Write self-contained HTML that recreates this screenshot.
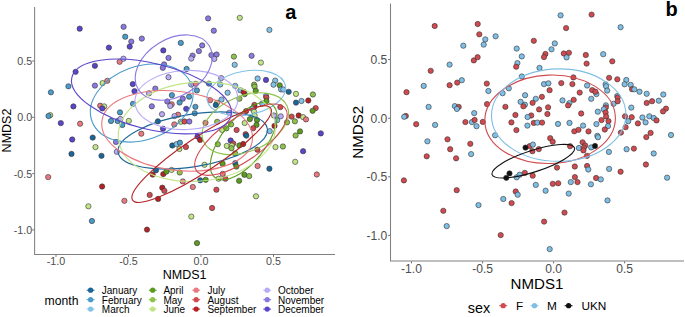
<!DOCTYPE html><html><head><meta charset="utf-8"><style>
html,body{margin:0;padding:0;background:#fff;}
body{width:685px;height:317px;overflow:hidden;position:relative;font-family:"Liberation Sans",sans-serif;}
svg{position:absolute;left:0;top:0;}
text{font-family:"Liberation Sans",sans-serif;}
.tka{font-size:10.7px;fill:#4d4d4d;}
.tkb{font-size:12.1px;fill:#4d4d4d;}
.tta{font-size:12.5px;fill:#000;}
.ttb{font-size:15.1px;fill:#000;}
.lbl{font-size:20px;font-weight:bold;fill:#000;}
.lta{font-size:12.2px;fill:#000;}
.lla{font-size:10px;fill:#000;}
.ltb{font-size:14.4px;fill:#000;}
.llb{font-size:11.8px;fill:#000;}
</style></head><body>
<svg width="685" height="317" viewBox="0 0 685 317">
<g stroke="#333" stroke-width="0.6"><circle cx="79.7" cy="28.7" r="2.65" fill="#5a45cc"/><circle cx="123.6" cy="26.8" r="2.65" fill="#8b79e2"/><circle cx="125.2" cy="36.7" r="2.65" fill="#4a9ccb"/><circle cx="131.3" cy="41.6" r="2.65" fill="#8b79e2"/><circle cx="129.7" cy="46.6" r="2.65" fill="#5a45cc"/><circle cx="108.9" cy="47.6" r="2.65" fill="#5a45cc"/><circle cx="141.8" cy="38.6" r="2.65" fill="#8b79e2"/><circle cx="208.1" cy="18.4" r="2.65" fill="#8b79e2"/><circle cx="213.8" cy="30.7" r="2.65" fill="#8b79e2"/><circle cx="180.8" cy="42.9" r="2.65" fill="#4a9ccb"/><circle cx="202.2" cy="45.4" r="2.65" fill="#8b79e2"/><circle cx="198.9" cy="51.1" r="2.65" fill="#8b79e2"/><circle cx="163.3" cy="50.4" r="2.65" fill="#5a45cc"/><circle cx="239.8" cy="17.8" r="2.65" fill="#c1e586"/><circle cx="269.4" cy="29.9" r="2.65" fill="#83c2e7"/><circle cx="94.9" cy="65.8" r="2.65" fill="#5a45cc"/><circle cx="75.6" cy="71.8" r="2.65" fill="#5a45cc"/><circle cx="68.4" cy="86.3" r="2.65" fill="#4a9ccb"/><circle cx="50.9" cy="92.3" r="2.65" fill="#4a9ccb"/><circle cx="94.9" cy="85.6" r="2.65" fill="#8b79e2"/><circle cx="102.6" cy="83.1" r="2.65" fill="#c1e586"/><circle cx="107.3" cy="80.8" r="2.65" fill="#e8797e"/><circle cx="119.6" cy="61.8" r="2.65" fill="#e8797e"/><circle cx="123.4" cy="58.7" r="2.65" fill="#b8aaf5"/><circle cx="168.5" cy="57.9" r="2.65" fill="#8b79e2"/><circle cx="192.6" cy="55.6" r="2.65" fill="#8b79e2"/><circle cx="191.2" cy="58.6" r="2.65" fill="#b8aaf5"/><circle cx="211.4" cy="55.1" r="2.65" fill="#8b79e2"/><circle cx="216.6" cy="54.5" r="2.65" fill="#8b79e2"/><circle cx="214.3" cy="58.9" r="2.65" fill="#b8aaf5"/><circle cx="164.1" cy="64.4" r="2.65" fill="#8b79e2"/><circle cx="162.8" cy="67.8" r="2.65" fill="#8b79e2"/><circle cx="186.6" cy="69.0" r="2.65" fill="#4a9ccb"/><circle cx="168.5" cy="77.2" r="2.65" fill="#b8aaf5"/><circle cx="221.2" cy="78.1" r="2.65" fill="#b8aaf5"/><circle cx="132.8" cy="84.1" r="2.65" fill="#5a45cc"/><circle cx="134.5" cy="91.2" r="2.65" fill="#5a45cc"/><circle cx="155.3" cy="88.6" r="2.65" fill="#8b79e2"/><circle cx="149.0" cy="93.3" r="2.65" fill="#b8aaf5"/><circle cx="171.9" cy="95.2" r="2.65" fill="#4a9ccb"/><circle cx="167.3" cy="101.5" r="2.65" fill="#8b79e2"/><circle cx="171.7" cy="104.3" r="2.65" fill="#e8797e"/><circle cx="170.2" cy="105.9" r="2.65" fill="#b8aaf5"/><circle cx="182.8" cy="98.7" r="2.65" fill="#8b79e2"/><circle cx="179.6" cy="102.5" r="2.65" fill="#4a9ccb"/><circle cx="189.1" cy="96.7" r="2.65" fill="#4a9ccb"/><circle cx="196.9" cy="90.4" r="2.65" fill="#4a9ccb"/><circle cx="191.2" cy="84.5" r="2.65" fill="#b8aaf5"/><circle cx="195.7" cy="83.8" r="2.65" fill="#e8797e"/><circle cx="133.0" cy="103.8" r="2.65" fill="#4a9ccb"/><circle cx="151.8" cy="106.3" r="2.65" fill="#8b79e2"/><circle cx="186.2" cy="108.8" r="2.65" fill="#5a45cc"/><circle cx="195.4" cy="106.8" r="2.65" fill="#4a9ccb"/><circle cx="208.9" cy="83.6" r="2.65" fill="#4a9ccb"/><circle cx="220.2" cy="84.5" r="2.65" fill="#83c2e7"/><circle cx="235.2" cy="85.9" r="2.65" fill="#83c2e7"/><circle cx="227.6" cy="92.7" r="2.65" fill="#83c2e7"/><circle cx="240.4" cy="90.3" r="2.65" fill="#83c2e7"/><circle cx="244.7" cy="94.1" r="2.65" fill="#5b9b1d"/><circle cx="243.7" cy="91.8" r="2.65" fill="#b52226"/><circle cx="239.4" cy="98.7" r="2.65" fill="#8dc34a"/><circle cx="221.5" cy="99.6" r="2.65" fill="#83c2e7"/><circle cx="210.1" cy="100.2" r="2.65" fill="#e8797e"/><circle cx="217.1" cy="102.8" r="2.65" fill="#c1e586"/><circle cx="215.8" cy="105.0" r="2.65" fill="#1b6699"/><circle cx="257.6" cy="78.5" r="2.65" fill="#83c2e7"/><circle cx="266.0" cy="79.9" r="2.65" fill="#5a45cc"/><circle cx="254.1" cy="84.7" r="2.65" fill="#8dc34a"/><circle cx="254.6" cy="86.6" r="2.65" fill="#8dc34a"/><circle cx="255.7" cy="90.8" r="2.65" fill="#5b9b1d"/><circle cx="275.2" cy="80.6" r="2.65" fill="#83c2e7"/><circle cx="273.5" cy="84.7" r="2.65" fill="#83c2e7"/><circle cx="279.7" cy="85.3" r="2.65" fill="#5b9b1d"/><circle cx="281.1" cy="89.4" r="2.65" fill="#83c2e7"/><circle cx="288.7" cy="91.8" r="2.65" fill="#1b6699"/><circle cx="266.0" cy="96.0" r="2.65" fill="#83c2e7"/><circle cx="266.4" cy="97.4" r="2.65" fill="#d24a50"/><circle cx="233.9" cy="56.6" r="2.65" fill="#8dc34a"/><circle cx="234.7" cy="64.8" r="2.65" fill="#83c2e7"/><circle cx="251.6" cy="55.8" r="2.65" fill="#8b79e2"/><circle cx="260.9" cy="62.6" r="2.65" fill="#c1e586"/><circle cx="296.0" cy="93.9" r="2.65" fill="#c1e586"/><circle cx="312.9" cy="94.5" r="2.65" fill="#8dc34a"/><circle cx="296.0" cy="102.6" r="2.65" fill="#1b6699"/><circle cx="301.5" cy="101.0" r="2.65" fill="#83c2e7"/><circle cx="308.3" cy="100.5" r="2.65" fill="#b52226"/><circle cx="280.3" cy="107.1" r="2.65" fill="#d24a50"/><circle cx="315.7" cy="108.1" r="2.65" fill="#d24a50"/><circle cx="312.6" cy="110.8" r="2.65" fill="#5b9b1d"/><circle cx="273.9" cy="115.5" r="2.65" fill="#b8aaf5"/><circle cx="280.7" cy="116.3" r="2.65" fill="#b8aaf5"/><circle cx="277.1" cy="120.2" r="2.65" fill="#83c2e7"/><circle cx="291.6" cy="116.6" r="2.65" fill="#d24a50"/><circle cx="298.7" cy="115.5" r="2.65" fill="#b52226"/><circle cx="303.1" cy="117.1" r="2.65" fill="#c1e586"/><circle cx="306.0" cy="119.4" r="2.65" fill="#e8797e"/><circle cx="294.9" cy="121.3" r="2.65" fill="#8dc34a"/><circle cx="287.0" cy="122.3" r="2.65" fill="#8dc34a"/><circle cx="300.0" cy="131.4" r="2.65" fill="#5b9b1d"/><circle cx="295.6" cy="135.5" r="2.65" fill="#8dc34a"/><circle cx="320.8" cy="133.4" r="2.65" fill="#5a45cc"/><circle cx="275.5" cy="147.1" r="2.65" fill="#c1e586"/><circle cx="282.9" cy="146.5" r="2.65" fill="#8dc34a"/><circle cx="303.1" cy="151.2" r="2.65" fill="#5a45cc"/><circle cx="295.2" cy="161.8" r="2.65" fill="#c1e586"/><circle cx="254.4" cy="104.9" r="2.65" fill="#d24a50"/><circle cx="254.3" cy="107.0" r="2.65" fill="#b52226"/><circle cx="252.2" cy="108.7" r="2.65" fill="#83c2e7"/><circle cx="246.1" cy="111.1" r="2.65" fill="#b52226"/><circle cx="254.1" cy="111.8" r="2.65" fill="#c1e586"/><circle cx="254.6" cy="115.6" r="2.65" fill="#c1e586"/><circle cx="249.9" cy="119.1" r="2.65" fill="#5b9b1d"/><circle cx="257.0" cy="120.1" r="2.65" fill="#5b9b1d"/><circle cx="262.2" cy="103.5" r="2.65" fill="#83c2e7"/><circle cx="266.4" cy="101.1" r="2.65" fill="#5b9b1d"/><circle cx="244.7" cy="123.0" r="2.65" fill="#c1e586"/><circle cx="256.5" cy="124.9" r="2.65" fill="#5b9b1d"/><circle cx="253.2" cy="128.2" r="2.65" fill="#d24a50"/><circle cx="236.6" cy="130.0" r="2.65" fill="#d24a50"/><circle cx="245.6" cy="134.2" r="2.65" fill="#d24a50"/><circle cx="246.3" cy="135.6" r="2.65" fill="#1b6699"/><circle cx="269.7" cy="131.1" r="2.65" fill="#83c2e7"/><circle cx="274.5" cy="125.9" r="2.65" fill="#b52226"/><circle cx="230.6" cy="140.5" r="2.65" fill="#5a45cc"/><circle cx="233.2" cy="143.5" r="2.65" fill="#d24a50"/><circle cx="226.8" cy="145.9" r="2.65" fill="#c1e586"/><circle cx="231.8" cy="145.6" r="2.65" fill="#c1e586"/><circle cx="231.4" cy="148.2" r="2.65" fill="#8dc34a"/><circle cx="239.4" cy="145.4" r="2.65" fill="#5b9b1d"/><circle cx="243.2" cy="144.0" r="2.65" fill="#b52226"/><circle cx="235.1" cy="153.4" r="2.65" fill="#8dc34a"/><circle cx="257.4" cy="149.7" r="2.65" fill="#d24a50"/><circle cx="194.7" cy="113.3" r="2.65" fill="#4a9ccb"/><circle cx="180.8" cy="121.8" r="2.65" fill="#c1e586"/><circle cx="184.5" cy="121.5" r="2.65" fill="#d24a50"/><circle cx="189.3" cy="121.5" r="2.65" fill="#8b79e2"/><circle cx="205.5" cy="122.8" r="2.65" fill="#e8797e"/><circle cx="217.2" cy="121.8" r="2.65" fill="#8dc34a"/><circle cx="229.2" cy="112.8" r="2.65" fill="#b8aaf5"/><circle cx="222.1" cy="129.9" r="2.65" fill="#c1e586"/><circle cx="226.4" cy="128.4" r="2.65" fill="#8dc34a"/><circle cx="231.1" cy="124.4" r="2.65" fill="#8dc34a"/><circle cx="197.5" cy="136.5" r="2.65" fill="#5a45cc"/><circle cx="200.1" cy="139.9" r="2.65" fill="#b52226"/><circle cx="185.9" cy="147.0" r="2.65" fill="#d24a50"/><circle cx="217.8" cy="144.2" r="2.65" fill="#8dc34a"/><circle cx="162.0" cy="114.2" r="2.65" fill="#b8aaf5"/><circle cx="178.1" cy="114.7" r="2.65" fill="#e8797e"/><circle cx="174.5" cy="116.1" r="2.65" fill="#b8aaf5"/><circle cx="157.9" cy="121.3" r="2.65" fill="#1b6699"/><circle cx="174.3" cy="124.4" r="2.65" fill="#e8797e"/><circle cx="128.8" cy="120.9" r="2.65" fill="#c1e586"/><circle cx="163.0" cy="128.7" r="2.65" fill="#5a45cc"/><circle cx="141.3" cy="133.7" r="2.65" fill="#e8797e"/><circle cx="172.3" cy="145.5" r="2.65" fill="#1b6699"/><circle cx="176.6" cy="144.1" r="2.65" fill="#83c2e7"/><circle cx="179.9" cy="142.7" r="2.65" fill="#4a9ccb"/><circle cx="179.4" cy="149.0" r="2.65" fill="#c1e586"/><circle cx="204.5" cy="164.8" r="2.65" fill="#c1e586"/><circle cx="73.4" cy="106.4" r="2.65" fill="#5a45cc"/><circle cx="50.2" cy="115.2" r="2.65" fill="#c1e586"/><circle cx="48.5" cy="116.0" r="2.65" fill="#4a9ccb"/><circle cx="60.8" cy="123.1" r="2.65" fill="#5a45cc"/><circle cx="80.1" cy="123.7" r="2.65" fill="#e8797e"/><circle cx="72.2" cy="139.5" r="2.65" fill="#5a45cc"/><circle cx="92.7" cy="137.6" r="2.65" fill="#1b6699"/><circle cx="100.2" cy="105.7" r="2.65" fill="#e8797e"/><circle cx="104.2" cy="106.4" r="2.65" fill="#c1e586"/><circle cx="102.3" cy="108.4" r="2.65" fill="#5a45cc"/><circle cx="120.0" cy="112.4" r="2.65" fill="#4a9ccb"/><circle cx="111.0" cy="121.0" r="2.65" fill="#4a9ccb"/><circle cx="117.6" cy="121.0" r="2.65" fill="#4a9ccb"/><circle cx="120.4" cy="119.0" r="2.65" fill="#b8aaf5"/><circle cx="122.3" cy="125.0" r="2.65" fill="#4a9ccb"/><circle cx="95.5" cy="147.1" r="2.65" fill="#c1e586"/><circle cx="71.5" cy="153.9" r="2.65" fill="#1b6699"/><circle cx="101.5" cy="155.8" r="2.65" fill="#1b6699"/><circle cx="48.2" cy="177.1" r="2.65" fill="#e8797e"/><circle cx="102.1" cy="186.5" r="2.65" fill="#b52226"/><circle cx="116.0" cy="141.9" r="2.65" fill="#8b79e2"/><circle cx="116.8" cy="151.8" r="2.65" fill="#b8aaf5"/><circle cx="124.4" cy="200.8" r="2.65" fill="#e8797e"/><circle cx="88.4" cy="206.3" r="2.65" fill="#c1e586"/><circle cx="91.9" cy="221.0" r="2.65" fill="#4a9ccb"/><circle cx="156.0" cy="170.3" r="2.65" fill="#1b6699"/><circle cx="152.7" cy="174.6" r="2.65" fill="#b52226"/><circle cx="163.3" cy="174.1" r="2.65" fill="#b52226"/><circle cx="166.4" cy="171.6" r="2.65" fill="#5b9b1d"/><circle cx="171.6" cy="169.9" r="2.65" fill="#c1e586"/><circle cx="179.7" cy="172.5" r="2.65" fill="#8dc34a"/><circle cx="182.8" cy="181.4" r="2.65" fill="#e8797e"/><circle cx="162.3" cy="187.7" r="2.65" fill="#b52226"/><circle cx="164.4" cy="190.8" r="2.65" fill="#d24a50"/><circle cx="149.7" cy="194.9" r="2.65" fill="#d24a50"/><circle cx="158.1" cy="198.9" r="2.65" fill="#b52226"/><circle cx="192.8" cy="187.0" r="2.65" fill="#e8797e"/><circle cx="200.2" cy="180.3" r="2.65" fill="#1b6699"/><circle cx="205.7" cy="179.8" r="2.65" fill="#5b9b1d"/><circle cx="216.4" cy="189.7" r="2.65" fill="#d24a50"/><circle cx="218.6" cy="178.7" r="2.65" fill="#c1e586"/><circle cx="222.7" cy="173.9" r="2.65" fill="#e8797e"/><circle cx="225.4" cy="178.7" r="2.65" fill="#d24a50"/><circle cx="212.1" cy="208.0" r="2.65" fill="#d24a50"/><circle cx="191.3" cy="216.6" r="2.65" fill="#c1e586"/><circle cx="197.0" cy="243.1" r="2.65" fill="#5b9b1d"/><circle cx="222.6" cy="163.7" r="2.65" fill="#5b9b1d"/><circle cx="235.2" cy="163.2" r="2.65" fill="#1b6699"/><circle cx="236.4" cy="166.6" r="2.65" fill="#5b9b1d"/><circle cx="244.4" cy="174.8" r="2.65" fill="#5b9b1d"/><circle cx="257.6" cy="166.0" r="2.65" fill="#e8797e"/><circle cx="269.4" cy="168.7" r="2.65" fill="#1b6699"/><circle cx="249.2" cy="176.1" r="2.65" fill="#8dc34a"/><circle cx="239.1" cy="180.8" r="2.65" fill="#5b9b1d"/><circle cx="256.0" cy="196.3" r="2.65" fill="#c1e586"/><circle cx="316.8" cy="174.5" r="2.65" fill="#e8797e"/><circle cx="283.3" cy="89.5" r="2.65" fill="#83c2e7"/><circle cx="147.0" cy="229.6" r="2.65" fill="#b52226"/></g>
<g fill="none" stroke-width="1.1"><ellipse cx="192.71" cy="140.49" rx="75.53" ry="26.20" transform="rotate(-9.12 192.71 140.49)" stroke="#1b6699"/><ellipse cx="141.69" cy="103.05" rx="52.94" ry="36.71" transform="rotate(-20.09 141.69 103.05)" stroke="#4a9ccb"/><ellipse cx="246.26" cy="92.94" rx="39.81" ry="21.87" transform="rotate(-10.50 246.26 92.94)" stroke="#83c2e7"/><ellipse cx="243.65" cy="141.15" rx="46.28" ry="21.72" transform="rotate(-51.68 243.65 141.15)" stroke="#5b9b1d"/><ellipse cx="245.33" cy="123.72" rx="45.39" ry="27.57" transform="rotate(-22.72 245.33 123.72)" stroke="#8dc34a"/><ellipse cx="196.79" cy="131.67" rx="78.67" ry="49.48" transform="rotate(-4.85 196.79 131.67)" stroke="#c1e586"/><ellipse cx="177.12" cy="130.86" rx="75.86" ry="39.38" transform="rotate(7.40 177.12 130.86)" stroke="#e8797e"/><ellipse cx="240.93" cy="139.72" rx="54.24" ry="21.31" transform="rotate(-34.79 240.93 139.72)" stroke="#d24a50"/><ellipse cx="201.65" cy="154.16" rx="82.97" ry="17.30" transform="rotate(-33.65 201.65 154.16)" stroke="#b52226"/><ellipse cx="186.41" cy="100.03" rx="51.50" ry="29.56" transform="rotate(-2.36 186.41 100.03)" stroke="#b8aaf5"/><ellipse cx="173.72" cy="67.55" rx="41.66" ry="28.57" transform="rotate(-31.46 173.72 67.55)" stroke="#8b79e2"/><ellipse cx="151.47" cy="96.48" rx="81.88" ry="32.92" transform="rotate(13.58 151.47 96.48)" stroke="#5a45cc"/></g>
<g stroke="#333" stroke-width="0.6"><circle cx="434.7" cy="26.0" r="2.65" fill="#d04a4f"/><circle cx="477.7" cy="24.0" r="2.65" fill="#d04a4f"/><circle cx="479.3" cy="34.3" r="2.65" fill="#d04a4f"/><circle cx="485.3" cy="39.4" r="2.65" fill="#7fbfe6"/><circle cx="483.7" cy="44.6" r="2.65" fill="#7fbfe6"/><circle cx="463.3" cy="45.7" r="2.65" fill="#7fbfe6"/><circle cx="495.6" cy="36.3" r="2.65" fill="#7fbfe6"/><circle cx="560.6" cy="15.3" r="2.65" fill="#7fbfe6"/><circle cx="566.1" cy="28.1" r="2.65" fill="#d04a4f"/><circle cx="533.8" cy="40.8" r="2.65" fill="#d04a4f"/><circle cx="554.8" cy="43.4" r="2.65" fill="#7fbfe6"/><circle cx="551.5" cy="49.3" r="2.65" fill="#7fbfe6"/><circle cx="516.7" cy="48.6" r="2.65" fill="#7fbfe6"/><circle cx="591.6" cy="14.6" r="2.65" fill="#d04a4f"/><circle cx="620.6" cy="27.2" r="2.65" fill="#7fbfe6"/><circle cx="449.6" cy="64.6" r="2.65" fill="#7fbfe6"/><circle cx="430.7" cy="70.8" r="2.65" fill="#d04a4f"/><circle cx="423.7" cy="85.9" r="2.65" fill="#7fbfe6"/><circle cx="406.5" cy="92.2" r="2.65" fill="#d04a4f"/><circle cx="449.6" cy="85.2" r="2.65" fill="#d04a4f"/><circle cx="457.2" cy="82.6" r="2.65" fill="#d04a4f"/><circle cx="461.8" cy="80.2" r="2.65" fill="#7fbfe6"/><circle cx="473.8" cy="60.4" r="2.65" fill="#d04a4f"/><circle cx="477.6" cy="57.2" r="2.65" fill="#d04a4f"/><circle cx="521.8" cy="56.4" r="2.65" fill="#7fbfe6"/><circle cx="545.4" cy="54.0" r="2.65" fill="#d04a4f"/><circle cx="544.0" cy="57.1" r="2.65" fill="#d04a4f"/><circle cx="563.8" cy="53.5" r="2.65" fill="#d04a4f"/><circle cx="568.9" cy="52.8" r="2.65" fill="#d04a4f"/><circle cx="566.6" cy="57.4" r="2.65" fill="#7fbfe6"/><circle cx="517.4" cy="63.1" r="2.65" fill="#7fbfe6"/><circle cx="516.2" cy="66.7" r="2.65" fill="#d04a4f"/><circle cx="539.5" cy="67.9" r="2.65" fill="#7fbfe6"/><circle cx="521.8" cy="76.5" r="2.65" fill="#7fbfe6"/><circle cx="573.4" cy="77.4" r="2.65" fill="#d04a4f"/><circle cx="486.8" cy="83.6" r="2.65" fill="#d04a4f"/><circle cx="488.4" cy="91.0" r="2.65" fill="#7fbfe6"/><circle cx="508.8" cy="88.3" r="2.65" fill="#7fbfe6"/><circle cx="502.6" cy="93.2" r="2.65" fill="#7fbfe6"/><circle cx="525.1" cy="95.2" r="2.65" fill="#7fbfe6"/><circle cx="520.6" cy="101.8" r="2.65" fill="#7fbfe6"/><circle cx="524.9" cy="104.7" r="2.65" fill="#7fbfe6"/><circle cx="523.4" cy="106.3" r="2.65" fill="#d04a4f"/><circle cx="535.8" cy="98.8" r="2.65" fill="#7fbfe6"/><circle cx="532.6" cy="102.8" r="2.65" fill="#d04a4f"/><circle cx="541.9" cy="96.8" r="2.65" fill="#d04a4f"/><circle cx="549.6" cy="90.2" r="2.65" fill="#d04a4f"/><circle cx="544.0" cy="84.1" r="2.65" fill="#7fbfe6"/><circle cx="548.4" cy="83.3" r="2.65" fill="#7fbfe6"/><circle cx="487.0" cy="104.1" r="2.65" fill="#d04a4f"/><circle cx="505.4" cy="106.8" r="2.65" fill="#d04a4f"/><circle cx="539.1" cy="109.4" r="2.65" fill="#d04a4f"/><circle cx="548.1" cy="107.3" r="2.65" fill="#d04a4f"/><circle cx="561.3" cy="83.1" r="2.65" fill="#d04a4f"/><circle cx="572.4" cy="84.1" r="2.65" fill="#d04a4f"/><circle cx="587.1" cy="85.5" r="2.65" fill="#7fbfe6"/><circle cx="579.7" cy="92.6" r="2.65" fill="#d04a4f"/><circle cx="592.2" cy="90.1" r="2.65" fill="#d04a4f"/><circle cx="596.4" cy="94.1" r="2.65" fill="#7fbfe6"/><circle cx="595.4" cy="91.7" r="2.65" fill="#d04a4f"/><circle cx="591.2" cy="98.8" r="2.65" fill="#7fbfe6"/><circle cx="573.7" cy="99.8" r="2.65" fill="#d04a4f"/><circle cx="562.5" cy="100.4" r="2.65" fill="#7fbfe6"/><circle cx="569.4" cy="103.1" r="2.65" fill="#7fbfe6"/><circle cx="568.1" cy="105.4" r="2.65" fill="#d04a4f"/><circle cx="609.1" cy="77.8" r="2.65" fill="#d04a4f"/><circle cx="617.3" cy="79.3" r="2.65" fill="#d04a4f"/><circle cx="605.6" cy="84.3" r="2.65" fill="#7fbfe6"/><circle cx="606.1" cy="86.2" r="2.65" fill="#7fbfe6"/><circle cx="607.2" cy="90.6" r="2.65" fill="#7fbfe6"/><circle cx="626.3" cy="80.0" r="2.65" fill="#7fbfe6"/><circle cx="624.6" cy="84.3" r="2.65" fill="#7fbfe6"/><circle cx="630.7" cy="84.9" r="2.65" fill="#7fbfe6"/><circle cx="632.1" cy="89.2" r="2.65" fill="#d04a4f"/><circle cx="639.5" cy="91.7" r="2.65" fill="#7fbfe6"/><circle cx="617.3" cy="96.0" r="2.65" fill="#7fbfe6"/><circle cx="617.7" cy="97.5" r="2.65" fill="#d04a4f"/><circle cx="585.8" cy="55.0" r="2.65" fill="#d04a4f"/><circle cx="586.6" cy="63.6" r="2.65" fill="#d04a4f"/><circle cx="603.2" cy="54.2" r="2.65" fill="#7fbfe6"/><circle cx="612.3" cy="61.3" r="2.65" fill="#d04a4f"/><circle cx="646.7" cy="93.8" r="2.65" fill="#7fbfe6"/><circle cx="663.3" cy="94.5" r="2.65" fill="#7fbfe6"/><circle cx="646.7" cy="102.9" r="2.65" fill="#d04a4f"/><circle cx="652.1" cy="101.2" r="2.65" fill="#d04a4f"/><circle cx="658.8" cy="100.7" r="2.65" fill="#7fbfe6"/><circle cx="631.3" cy="107.6" r="2.65" fill="#7fbfe6"/><circle cx="666.0" cy="108.6" r="2.65" fill="#d04a4f"/><circle cx="663.0" cy="111.4" r="2.65" fill="#d04a4f"/><circle cx="625.0" cy="116.3" r="2.65" fill="#d04a4f"/><circle cx="631.7" cy="117.2" r="2.65" fill="#d04a4f"/><circle cx="628.2" cy="121.2" r="2.65" fill="#7fbfe6"/><circle cx="642.4" cy="117.5" r="2.65" fill="#7fbfe6"/><circle cx="649.3" cy="116.3" r="2.65" fill="#7fbfe6"/><circle cx="653.7" cy="118.0" r="2.65" fill="#7fbfe6"/><circle cx="656.5" cy="120.4" r="2.65" fill="#d04a4f"/><circle cx="645.6" cy="122.4" r="2.65" fill="#7fbfe6"/><circle cx="637.9" cy="123.4" r="2.65" fill="#d04a4f"/><circle cx="650.6" cy="132.9" r="2.65" fill="#d04a4f"/><circle cx="646.3" cy="137.1" r="2.65" fill="#d04a4f"/><circle cx="671.0" cy="135.0" r="2.65" fill="#7fbfe6"/><circle cx="626.6" cy="149.2" r="2.65" fill="#7fbfe6"/><circle cx="633.9" cy="148.6" r="2.65" fill="#d04a4f"/><circle cx="653.7" cy="153.5" r="2.65" fill="#7fbfe6"/><circle cx="645.9" cy="164.5" r="2.65" fill="#d04a4f"/><circle cx="605.9" cy="105.3" r="2.65" fill="#7fbfe6"/><circle cx="605.8" cy="107.5" r="2.65" fill="#d04a4f"/><circle cx="603.8" cy="109.2" r="2.65" fill="#7fbfe6"/><circle cx="597.8" cy="111.7" r="2.65" fill="#7fbfe6"/><circle cx="605.6" cy="112.5" r="2.65" fill="#d04a4f"/><circle cx="606.1" cy="116.4" r="2.65" fill="#d04a4f"/><circle cx="601.5" cy="120.1" r="2.65" fill="#d04a4f"/><circle cx="608.5" cy="121.1" r="2.65" fill="#d04a4f"/><circle cx="613.6" cy="103.8" r="2.65" fill="#7fbfe6"/><circle cx="617.7" cy="101.3" r="2.65" fill="#d04a4f"/><circle cx="596.4" cy="124.1" r="2.65" fill="#7fbfe6"/><circle cx="608.0" cy="126.1" r="2.65" fill="#7fbfe6"/><circle cx="604.8" cy="129.5" r="2.65" fill="#d04a4f"/><circle cx="588.5" cy="131.4" r="2.65" fill="#d04a4f"/><circle cx="597.3" cy="135.8" r="2.65" fill="#7fbfe6"/><circle cx="598.0" cy="137.2" r="2.65" fill="#7fbfe6"/><circle cx="620.9" cy="132.6" r="2.65" fill="#d04a4f"/><circle cx="625.6" cy="127.2" r="2.65" fill="#d04a4f"/><circle cx="582.6" cy="142.3" r="2.65" fill="#d04a4f"/><circle cx="585.2" cy="145.5" r="2.65" fill="#d04a4f"/><circle cx="578.9" cy="148.0" r="2.65" fill="#7fbfe6"/><circle cx="583.8" cy="147.7" r="2.65" fill="#d04a4f"/><circle cx="583.4" cy="150.4" r="2.65" fill="#d04a4f"/><circle cx="591.2" cy="147.4" r="2.65" fill="#7fbfe6"/><circle cx="587.0" cy="155.8" r="2.65" fill="#d04a4f"/><circle cx="608.9" cy="151.9" r="2.65" fill="#7fbfe6"/><circle cx="547.4" cy="114.0" r="2.65" fill="#d04a4f"/><circle cx="533.8" cy="122.9" r="2.65" fill="#d04a4f"/><circle cx="537.4" cy="122.6" r="2.65" fill="#7fbfe6"/><circle cx="542.1" cy="122.6" r="2.65" fill="#d04a4f"/><circle cx="558.0" cy="123.9" r="2.65" fill="#7fbfe6"/><circle cx="569.5" cy="122.9" r="2.65" fill="#7fbfe6"/><circle cx="581.2" cy="113.5" r="2.65" fill="#d04a4f"/><circle cx="574.3" cy="131.3" r="2.65" fill="#d04a4f"/><circle cx="578.5" cy="129.8" r="2.65" fill="#d04a4f"/><circle cx="583.1" cy="125.6" r="2.65" fill="#7fbfe6"/><circle cx="550.2" cy="138.2" r="2.65" fill="#d04a4f"/><circle cx="552.7" cy="141.7" r="2.65" fill="#d04a4f"/><circle cx="538.8" cy="149.1" r="2.65" fill="#d04a4f"/><circle cx="570.1" cy="146.2" r="2.65" fill="#d04a4f"/><circle cx="515.4" cy="115.0" r="2.65" fill="#d04a4f"/><circle cx="531.2" cy="115.5" r="2.65" fill="#d04a4f"/><circle cx="527.6" cy="117.0" r="2.65" fill="#7fbfe6"/><circle cx="511.4" cy="122.4" r="2.65" fill="#d04a4f"/><circle cx="527.4" cy="125.6" r="2.65" fill="#7fbfe6"/><circle cx="482.8" cy="121.9" r="2.65" fill="#d04a4f"/><circle cx="516.4" cy="130.1" r="2.65" fill="#d04a4f"/><circle cx="495.1" cy="135.3" r="2.65" fill="#7fbfe6"/><circle cx="529.7" cy="146.1" r="2.65" fill="#d04a4f"/><circle cx="532.9" cy="144.6" r="2.65" fill="#7fbfe6"/><circle cx="532.4" cy="151.2" r="2.65" fill="#d04a4f"/><circle cx="557.0" cy="167.6" r="2.65" fill="#d04a4f"/><circle cx="428.6" cy="106.9" r="2.65" fill="#7fbfe6"/><circle cx="405.8" cy="116.0" r="2.65" fill="#d04a4f"/><circle cx="404.2" cy="116.8" r="2.65" fill="#7fbfe6"/><circle cx="416.2" cy="124.2" r="2.65" fill="#d04a4f"/><circle cx="435.1" cy="124.9" r="2.65" fill="#7fbfe6"/><circle cx="427.4" cy="141.3" r="2.65" fill="#7fbfe6"/><circle cx="447.5" cy="139.3" r="2.65" fill="#d04a4f"/><circle cx="454.8" cy="106.1" r="2.65" fill="#7fbfe6"/><circle cx="458.7" cy="106.9" r="2.65" fill="#d04a4f"/><circle cx="456.9" cy="108.9" r="2.65" fill="#7fbfe6"/><circle cx="474.2" cy="113.1" r="2.65" fill="#7fbfe6"/><circle cx="465.4" cy="122.1" r="2.65" fill="#d04a4f"/><circle cx="471.9" cy="122.1" r="2.65" fill="#7fbfe6"/><circle cx="474.6" cy="120.0" r="2.65" fill="#d04a4f"/><circle cx="476.5" cy="126.2" r="2.65" fill="#7fbfe6"/><circle cx="450.2" cy="149.2" r="2.65" fill="#d04a4f"/><circle cx="426.7" cy="156.3" r="2.65" fill="#d04a4f"/><circle cx="456.1" cy="158.3" r="2.65" fill="#d04a4f"/><circle cx="403.9" cy="180.4" r="2.65" fill="#d04a4f"/><circle cx="456.7" cy="190.2" r="2.65" fill="#d04a4f"/><circle cx="470.3" cy="143.8" r="2.65" fill="#d04a4f"/><circle cx="471.1" cy="154.1" r="2.65" fill="#7fbfe6"/><circle cx="478.5" cy="205.1" r="2.65" fill="#7fbfe6"/><circle cx="443.3" cy="210.8" r="2.65" fill="#d04a4f"/><circle cx="446.7" cy="226.1" r="2.65" fill="#7fbfe6"/><circle cx="516.7" cy="177.3" r="2.65" fill="#7fbfe6"/><circle cx="519.7" cy="174.7" r="2.65" fill="#7fbfe6"/><circle cx="524.8" cy="172.9" r="2.65" fill="#d04a4f"/><circle cx="532.7" cy="175.7" r="2.65" fill="#d04a4f"/><circle cx="535.8" cy="184.9" r="2.65" fill="#7fbfe6"/><circle cx="515.7" cy="191.5" r="2.65" fill="#d04a4f"/><circle cx="517.7" cy="194.7" r="2.65" fill="#7fbfe6"/><circle cx="503.3" cy="199.0" r="2.65" fill="#7fbfe6"/><circle cx="511.6" cy="203.1" r="2.65" fill="#d04a4f"/><circle cx="545.6" cy="190.7" r="2.65" fill="#7fbfe6"/><circle cx="552.8" cy="183.8" r="2.65" fill="#d04a4f"/><circle cx="558.2" cy="183.3" r="2.65" fill="#d04a4f"/><circle cx="568.7" cy="193.6" r="2.65" fill="#7fbfe6"/><circle cx="570.8" cy="182.1" r="2.65" fill="#7fbfe6"/><circle cx="574.9" cy="177.1" r="2.65" fill="#d04a4f"/><circle cx="577.5" cy="182.1" r="2.65" fill="#d04a4f"/><circle cx="564.5" cy="212.6" r="2.65" fill="#d04a4f"/><circle cx="544.1" cy="221.6" r="2.65" fill="#d04a4f"/><circle cx="549.7" cy="249.1" r="2.65" fill="#7fbfe6"/><circle cx="574.8" cy="166.5" r="2.65" fill="#d04a4f"/><circle cx="587.1" cy="166.0" r="2.65" fill="#d04a4f"/><circle cx="588.3" cy="169.5" r="2.65" fill="#7fbfe6"/><circle cx="596.1" cy="178.0" r="2.65" fill="#d04a4f"/><circle cx="609.1" cy="168.9" r="2.65" fill="#7fbfe6"/><circle cx="620.6" cy="171.7" r="2.65" fill="#d04a4f"/><circle cx="600.8" cy="179.4" r="2.65" fill="#7fbfe6"/><circle cx="590.9" cy="184.3" r="2.65" fill="#7fbfe6"/><circle cx="607.5" cy="200.4" r="2.65" fill="#7fbfe6"/><circle cx="667.1" cy="177.7" r="2.65" fill="#7fbfe6"/><circle cx="634.3" cy="89.3" r="2.65" fill="#7fbfe6"/><circle cx="500.7" cy="235.1" r="2.65" fill="#d04a4f"/><circle cx="595.0" cy="146.0" r="2.65" fill="#111111"/><circle cx="525.5" cy="147.6" r="2.65" fill="#111111"/><circle cx="509.5" cy="173.4" r="2.65" fill="#111111"/><circle cx="506.3" cy="177.8" r="2.65" fill="#111111"/></g>
<g fill="none" stroke-width="1.1"><ellipse cx="550.10" cy="119.30" rx="65.30" ry="44.20" transform="rotate(-2.10 550.10 119.30)" stroke="#d04a4f"/><ellipse cx="558.70" cy="115.10" rx="67.20" ry="46.20" transform="rotate(-0.70 558.70 115.10)" stroke="#7fbfe6"/><ellipse cx="533.30" cy="161.20" rx="43.30" ry="10.70" transform="rotate(-18.00 533.30 161.20)" stroke="#111111"/></g>
<line x1="34.6" y1="7" x2="34.6" y2="254.5" stroke="#808080" stroke-width="1.05"/><line x1="34.1" y1="254.5" x2="335" y2="254.5" stroke="#808080" stroke-width="1.05"/><line x1="32.2" y1="61.0" x2="34.1" y2="61.0" stroke="#333333" stroke-width="0.7"/><text x="32.2" y="64.9" text-anchor="end" class="tka">0.5</text><line x1="32.2" y1="117.3" x2="34.1" y2="117.3" stroke="#333333" stroke-width="0.7"/><text x="32.2" y="121.2" text-anchor="end" class="tka">0.0</text><line x1="32.2" y1="173.6" x2="34.1" y2="173.6" stroke="#333333" stroke-width="0.7"/><text x="32.2" y="177.5" text-anchor="end" class="tka">-0.5</text><line x1="32.2" y1="229.9" x2="34.1" y2="229.9" stroke="#333333" stroke-width="0.7"/><text x="32.2" y="233.8" text-anchor="end" class="tka">-1.0</text><line x1="56.0" y1="255" x2="56.0" y2="256.9" stroke="#333333" stroke-width="0.7"/><text x="56.0" y="265.0" text-anchor="middle" class="tka">-1.0</text><line x1="128.5" y1="255" x2="128.5" y2="256.9" stroke="#333333" stroke-width="0.7"/><text x="128.5" y="265.0" text-anchor="middle" class="tka">-0.5</text><line x1="201.0" y1="255" x2="201.0" y2="256.9" stroke="#333333" stroke-width="0.7"/><text x="201.0" y="265.0" text-anchor="middle" class="tka">0.0</text><line x1="273.5" y1="255" x2="273.5" y2="256.9" stroke="#333333" stroke-width="0.7"/><text x="273.5" y="265.0" text-anchor="middle" class="tka">0.5</text><text x="184.6" y="278.5" text-anchor="middle" class="tta">NMDS1</text><text transform="translate(10.9 130.5) rotate(-90)" text-anchor="middle" class="tta">NMDS2</text><text x="285.2" y="19.0" class="lbl">a</text>
<text x="44.6" y="305.1" class="lta">month</text><line x1="86.7" y1="290.2" x2="94.5" y2="290.2" stroke="#1b6699" stroke-width="1.1"/><circle cx="90.6" cy="290.2" r="2.6" fill="#1b6699"/><text x="101.8" y="294.3" class="lla">January</text><line x1="86.7" y1="299.7" x2="94.5" y2="299.7" stroke="#4a9ccb" stroke-width="1.1"/><circle cx="90.6" cy="299.7" r="2.6" fill="#4a9ccb"/><text x="101.8" y="303.8" class="lla">February</text><line x1="86.7" y1="309.1" x2="94.5" y2="309.1" stroke="#83c2e7" stroke-width="1.1"/><circle cx="90.6" cy="309.1" r="2.6" fill="#83c2e7"/><text x="101.8" y="313.2" class="lla">March</text><line x1="148.8" y1="290.2" x2="156.6" y2="290.2" stroke="#5b9b1d" stroke-width="1.1"/><circle cx="152.7" cy="290.2" r="2.6" fill="#5b9b1d"/><text x="163.4" y="294.3" class="lla">April</text><line x1="148.8" y1="299.7" x2="156.6" y2="299.7" stroke="#8dc34a" stroke-width="1.1"/><circle cx="152.7" cy="299.7" r="2.6" fill="#8dc34a"/><text x="163.4" y="303.8" class="lla">May</text><line x1="148.8" y1="309.1" x2="156.6" y2="309.1" stroke="#c1e586" stroke-width="1.1"/><circle cx="152.7" cy="309.1" r="2.6" fill="#c1e586"/><text x="163.4" y="313.2" class="lla">June</text><line x1="192.3" y1="290.2" x2="200.1" y2="290.2" stroke="#e8797e" stroke-width="1.1"/><circle cx="196.2" cy="290.2" r="2.6" fill="#e8797e"/><text x="207.4" y="294.3" class="lla">July</text><line x1="192.3" y1="299.7" x2="200.1" y2="299.7" stroke="#d24a50" stroke-width="1.1"/><circle cx="196.2" cy="299.7" r="2.6" fill="#d24a50"/><text x="207.4" y="303.8" class="lla">August</text><line x1="192.3" y1="309.1" x2="200.1" y2="309.1" stroke="#b52226" stroke-width="1.1"/><circle cx="196.2" cy="309.1" r="2.6" fill="#b52226"/><text x="207.4" y="313.2" class="lla">September</text><line x1="263.3" y1="290.2" x2="271.1" y2="290.2" stroke="#b8aaf5" stroke-width="1.1"/><circle cx="267.2" cy="290.2" r="2.6" fill="#b8aaf5"/><text x="278.0" y="294.3" class="lla">October</text><line x1="263.3" y1="299.7" x2="271.1" y2="299.7" stroke="#8b79e2" stroke-width="1.1"/><circle cx="267.2" cy="299.7" r="2.6" fill="#8b79e2"/><text x="278.0" y="303.8" class="lla">November</text><line x1="263.3" y1="309.1" x2="271.1" y2="309.1" stroke="#5a45cc" stroke-width="1.1"/><circle cx="267.2" cy="309.1" r="2.6" fill="#5a45cc"/><text x="278.0" y="313.2" class="lla">December</text>
<line x1="390.5" y1="3.5" x2="390.5" y2="261" stroke="#808080" stroke-width="1.05"/><line x1="390" y1="261" x2="684" y2="261" stroke="#808080" stroke-width="1.05"/><line x1="388.1" y1="59.6" x2="390" y2="59.6" stroke="#333333" stroke-width="0.7"/><text x="387.3" y="64.0" text-anchor="end" class="tkb">0.5</text><line x1="388.1" y1="118.2" x2="390" y2="118.2" stroke="#333333" stroke-width="0.7"/><text x="387.3" y="122.6" text-anchor="end" class="tkb">0.0</text><line x1="388.1" y1="176.8" x2="390" y2="176.8" stroke="#333333" stroke-width="0.7"/><text x="387.3" y="181.2" text-anchor="end" class="tkb">-0.5</text><line x1="388.1" y1="235.4" x2="390" y2="235.4" stroke="#333333" stroke-width="0.7"/><text x="387.3" y="239.8" text-anchor="end" class="tkb">-1.0</text><line x1="411.5" y1="261.5" x2="411.5" y2="263.4" stroke="#333333" stroke-width="0.7"/><text x="411.5" y="273.0" text-anchor="middle" class="tkb">-1.0</text><line x1="482.6" y1="261.5" x2="482.6" y2="263.4" stroke="#333333" stroke-width="0.7"/><text x="482.6" y="273.0" text-anchor="middle" class="tkb">-0.5</text><line x1="553.6" y1="261.5" x2="553.6" y2="263.4" stroke="#333333" stroke-width="0.7"/><text x="553.6" y="273.0" text-anchor="middle" class="tkb">0.0</text><line x1="624.6" y1="261.5" x2="624.6" y2="263.4" stroke="#333333" stroke-width="0.7"/><text x="624.6" y="273.0" text-anchor="middle" class="tkb">0.5</text><text x="537.0" y="288.7" text-anchor="middle" class="ttb">NMDS1</text><text transform="translate(363.0 132.3) rotate(-90)" text-anchor="middle" class="ttb">NMDS2</text><text x="665.4" y="15.7" class="lbl">b</text>
<text x="467.8" y="313.0" class="ltb">sex</text><line x1="499.3" y1="305.7" x2="507.1" y2="305.7" stroke="#d04a4f" stroke-width="1.1"/><circle cx="503.2" cy="305.7" r="2.6" fill="#d04a4f"/><text x="516.0" y="310.2" class="llb">F</text><line x1="530.6" y1="305.7" x2="538.4" y2="305.7" stroke="#7fbfe6" stroke-width="1.1"/><circle cx="534.5" cy="305.7" r="2.6" fill="#7fbfe6"/><text x="547.0" y="310.2" class="llb">M</text><line x1="564.7" y1="305.7" x2="572.5" y2="305.7" stroke="#111111" stroke-width="1.1"/><circle cx="568.6" cy="305.7" r="2.6" fill="#111111"/><text x="581.4" y="310.2" class="llb">UKN</text>
</svg></body></html>
